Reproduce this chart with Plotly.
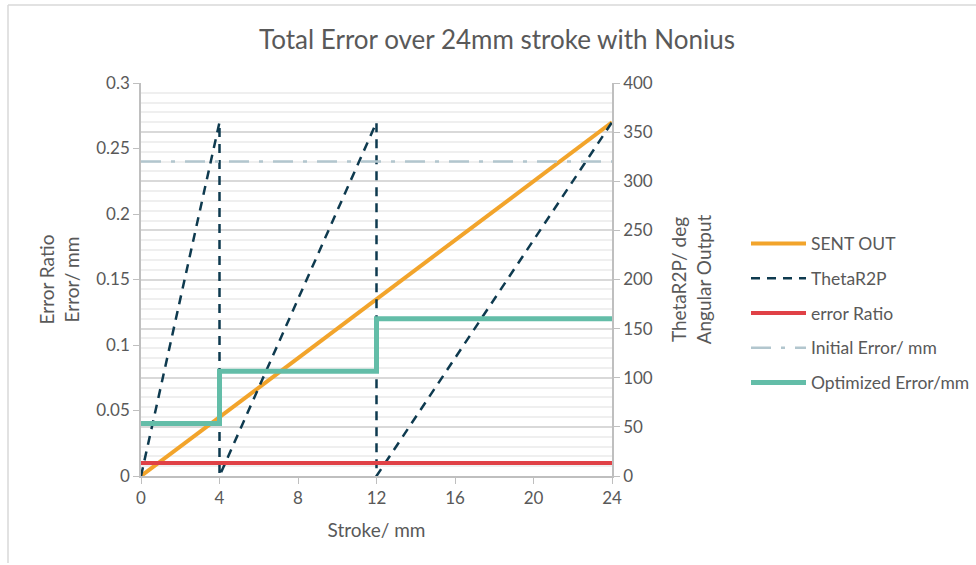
import plotly.graph_objects as go

# ---- data ----
stroke_sent = [0, 4, 8, 12, 16, 20, 24]
sent_out = [0, 60, 120, 180, 240, 300, 360]

stroke_theta = [0, 4, 4, 12, 12, 24]
theta_r2p = [0, 360, 0, 360, 0, 360]

stroke_flat = [0, 24]
error_ratio = [0.01, 0.01]
initial_error = [0.24, 0.24]

stroke_opt = [0, 4, 4, 12, 12, 24]
optimized_error = [0.04, 0.04, 0.08, 0.08, 0.12, 0.12]

x_ticks = [0, 4, 8, 12, 16, 20, 24]

# ---- style ----
FONT = "Lato"
TXT = "#595959"
W, H = 976, 565
L, R, T, B = 141, 612, 83, 476

fig = go.Figure()
fig.add_trace(go.Scatter(x=stroke_sent, y=sent_out, name="SENT OUT", mode="lines",
                         line=dict(color="#F2A42B", width=4), yaxis="y", legendgroup="a"))
fig.add_trace(go.Scatter(x=stroke_theta, y=theta_r2p, name="ThetaR2P", mode="lines",
                         line=dict(color="#0E3A4F", width=2.5, dash="9px,7px"), yaxis="y", legendgroup="b"))
fig.add_trace(go.Scatter(x=stroke_flat, y=error_ratio, name="error Ratio", mode="lines",
                         line=dict(color="#E04146", width=4), yaxis="y2", legendgroup="c"))
fig.add_trace(go.Scatter(x=stroke_flat, y=initial_error, name="Initial Error/ mm", mode="lines",
                         line=dict(color="#B2C6CE", width=2.5, dash="20px,10px,4px,10px"), yaxis="y2", legendgroup="d"))
fig.add_trace(go.Scatter(x=stroke_opt, y=optimized_error, name="Optimized Error/mm", mode="lines",
                         line=dict(color="#63BDA8", width=5), yaxis="y2", legendgroup="e"))

tick_font = dict(family=FONT, size=17, color=TXT)
title_font = dict(family=FONT, size=19, color=TXT)

fig.update_layout(
    width=W, height=H,
    margin=dict(l=L, r=W - R, t=T, b=H - B, pad=0, autoexpand=False),
    paper_bgcolor="white", plot_bgcolor="white",
    font=dict(family=FONT, color=TXT, size=17),
    title=dict(text="Total Error over 24mm stroke with Nonius", x=497 / W, xanchor="center",
               y=1 - 40 / H, yanchor="middle", yref="container",
               font=dict(family=FONT, size=26, color=TXT)),
    xaxis=dict(range=[0, 24], tickvals=x_ticks, ticks="outside", ticklen=6, tickcolor="#BFBFBF",
               showline=True, linecolor="#BFBFBF", linewidth=1.5, showgrid=False, zeroline=False,
               tickfont=tick_font, title=dict(text="Stroke/ mm", font=title_font, standoff=17)),
    yaxis=dict(range=[0, 400], dtick=50, side="right", ticks="outside", ticklen=6, tickcolor="#BFBFBF",
               showline=True, linecolor="#BFBFBF", linewidth=1.5, showgrid=True, gridcolor="#D9D9D9",
               gridwidth=1.5, zeroline=False,
               minor=dict(dtick=10, showgrid=True, gridcolor="#EFEFEF", gridwidth=1.5),
               tickfont=tick_font,
               title=dict(text="ThetaR2P/ deg<br>Angular Output", font=title_font, standoff=21)),
    yaxis2=dict(range=[0, 0.3], dtick=0.05, side="left", overlaying="y", ticks="outside", ticklen=6,
                tickcolor="#BFBFBF", showline=True, linecolor="#BFBFBF", linewidth=1.5,
                showgrid=False, zeroline=False, tickfont=tick_font,
                title=dict(text="Error Ratio<br>Error/ mm", font=title_font, standoff=12)),
    legend=dict(x=(746 - L) / (R - L), xanchor="left", y=(B - 313) / (B - T), yanchor="middle",
                font=dict(family=FONT, size=17.5, color=TXT), tracegroupgap=9,
                bgcolor="rgba(0,0,0,0)", itemwidth=55),
    showlegend=True,
    shapes=[
        dict(type="line", xref="paper", yref="paper",
             x0=(8 - L) / (R - L), x1=(8 - L) / (R - L),
             y0=(B - 5) / (B - T), y1=(B - 563) / (B - T),
             line=dict(color="#D9D9D9", width=1.5)),
        dict(type="line", xref="paper", yref="paper",
             x0=(8 - L) / (R - L), x1=(W - L) / (R - L),
             y0=(B - 5) / (B - T), y1=(B - 5) / (B - T),
             line=dict(color="#D9D9D9", width=1.5)),
    ],
)

fig.write_html("out.html", config={"displayModeBar": False},
               post_script="document.body.style.margin='0';document.body.style.padding='0';")
